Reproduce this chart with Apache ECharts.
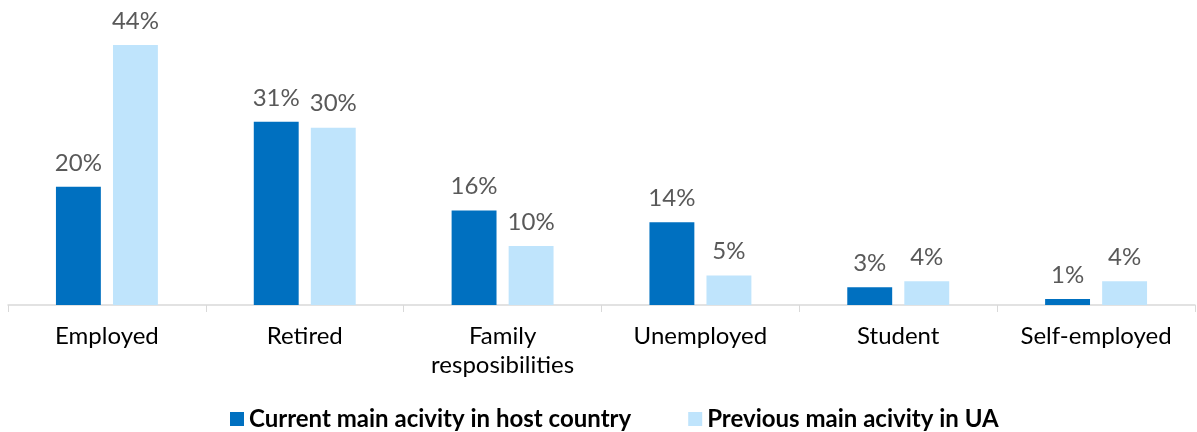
<!DOCTYPE html>
<html><head><meta charset="utf-8">
<script src="https://cdn.jsdelivr.net/npm/echarts@6/dist/echarts.min.js"></script>
<style>html,body{margin:0;padding:0;background:#fff}#c{width:1197px;height:432px}</style>
</head><body><div id="c"></div>
<script>
const categories = ['Employed','Retired','Family\nresposibilities','Unemployed','Student','Self-employed'];
const currentValues = [20,31,16,14,3,1];
const previousValues = [44,30,10,5,4,4];
const seriesNames = ['Current main acivity in host country','Previous main acivity in UA'];
const chart = echarts.init(document.getElementById('c'));
const lbl = {show:true, position:'top', distance:12, formatter:'{c}%', color:'#595959', fontFamily:'Lato', fontSize:24};
chart.setOption({
  animation:false,
  grid:{left:8,right:2,top:45,bottom:127,containLabel:false},
  legend:{left:225, bottom:-4, itemGap:57, itemWidth:14, itemHeight:14, icon:'rect',
    textStyle:{fontFamily:'Lato', fontSize:24, fontWeight:'bold', color:'#000'}},
  xAxis:{type:'category', data:categories,
    axisLine:{lineStyle:{color:'#d9d9d9', width:1.5}},
    axisTick:{show:true, length:7, lineStyle:{color:'#d9d9d9'}},
    axisLabel:{margin:17, color:'#000', fontFamily:'Lato', fontSize:24, lineHeight:29}},
  yAxis:{type:'value', min:0, max:44, show:false, splitLine:{show:false}},
  series:[
    {name:seriesNames[0], type:'bar', data:currentValues, barWidth:'22.7%', barGap:'27%', itemStyle:{color:'#0070c0'}, label:lbl},
    {name:seriesNames[1], type:'bar', data:previousValues, barWidth:'22.7%', barGap:'27%', itemStyle:{color:'#bfe4fc'}, label:lbl}
  ]
});
</script></body></html>
